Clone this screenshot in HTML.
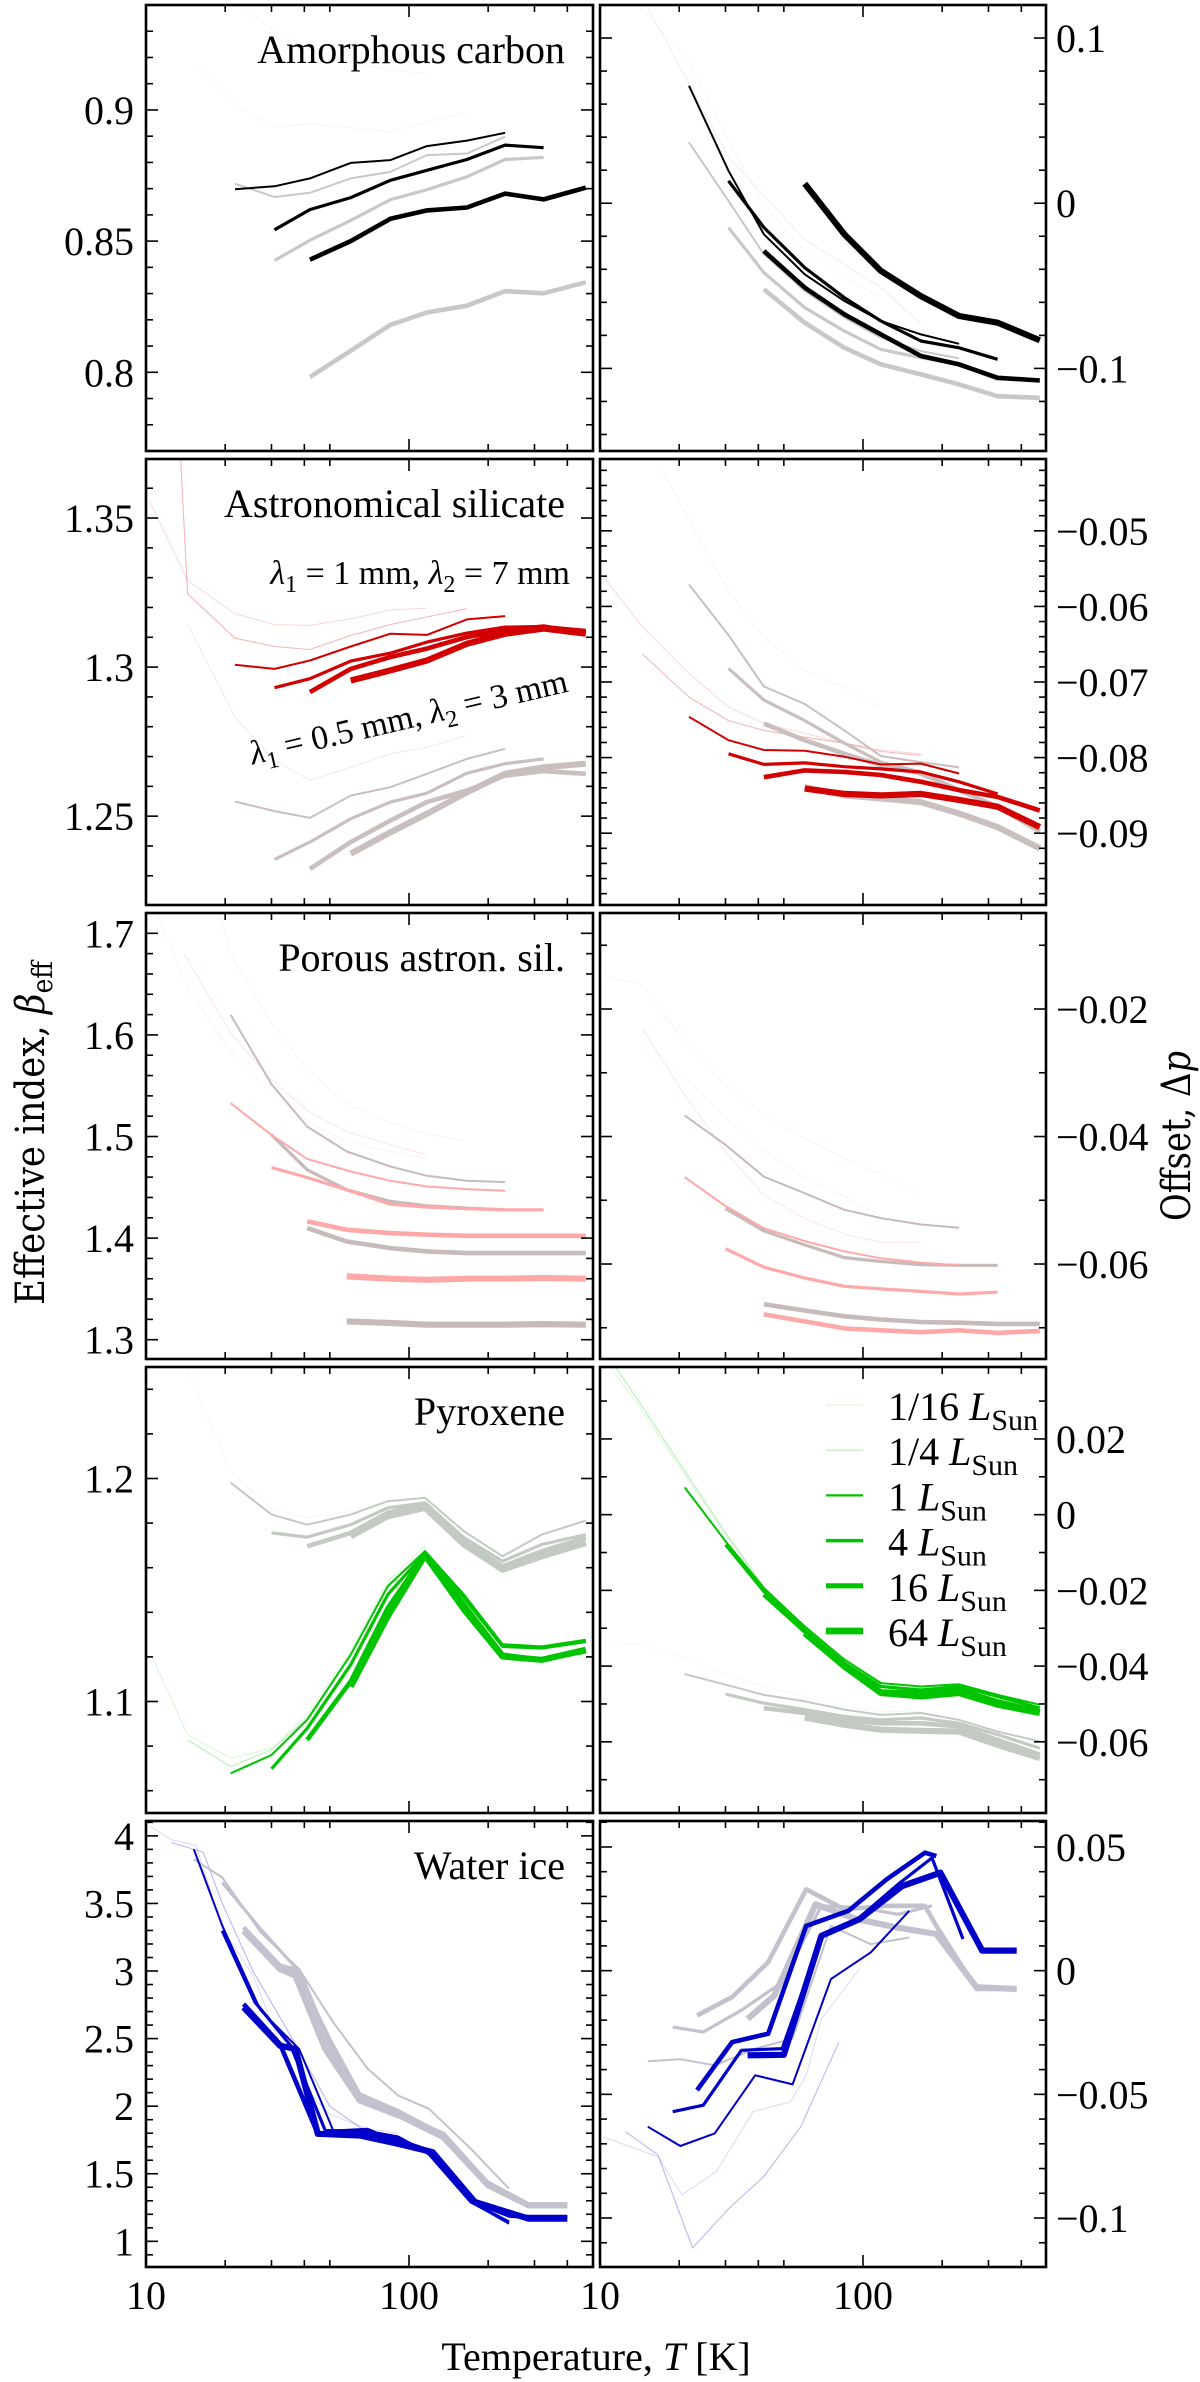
<!DOCTYPE html>
<html><head><meta charset="utf-8"><style>
html,body{margin:0;padding:0;background:#fff}
svg{display:block;font-family:"Liberation Serif",serif}
</style></head><body>
<svg id="fig" width="1200" height="2382" viewBox="0 0 1200 2382" xmlns="http://www.w3.org/2000/svg">
<text transform="translate(44,1133) rotate(-90)" text-anchor="middle" font-family="DejaVu Serif,serif" font-size="40" textLength="344" lengthAdjust="spacingAndGlyphs">Effective index, <tspan font-style="italic">β</tspan><tspan font-size="28" dy="8">eff</tspan></text>
<text transform="translate(1190,1136) rotate(-90)" text-anchor="middle" font-family="DejaVu Serif,serif" font-size="40" textLength="170" lengthAdjust="spacingAndGlyphs">Offset, Δ<tspan font-style="italic">p</tspan></text>
<text x="596" y="2370" text-anchor="middle" font-size="40">Temperature, <tspan font-style="italic">T</tspan> [K]</text>
</svg>
<script>
// ---- data ----
const lumLabels = ["1/16","1/4","1","4","16","64"];
const xTickLabels = ["10","100"];
const xTickValues = [10,100];
const panelTitles = ["Amorphous carbon","Astronomical silicate","Porous astron. sil.","Pyroxene","Water ice"];
const leftYTicks = [[0.8,0.85,0.9],[1.25,1.3,1.35],[1.3,1.4,1.5,1.6,1.7],[1.1,1.2],[1,1.5,2,2.5,3,3.5,4]];
const leftYLabels = [["0.8","0.85","0.9"],["1.25","1.3","1.35"],["1.3","1.4","1.5","1.6","1.7"],["1.1","1.2"],["1","1.5","2","2.5","3","3.5","4"]];
const rightYTicks = [[-0.1,0,0.1],[-0.09,-0.08,-0.07,-0.06,-0.05],[-0.06,-0.04,-0.02],[-0.06,-0.04,-0.02,0,0.02],[-0.1,-0.05,0,0.05]];
const rightYLabels = [["−0.1","0","0.1"],["−0.09","−0.08","−0.07","−0.06","−0.05"],["−0.06","−0.04","−0.02"],["−0.06","−0.04","−0.02","0","0.02"],["−0.1","−0.05","0","0.05"]];

const carbonL = [
 {l:0,c:1,T:[15.6,21.8,30.8,42,60,85,117,166],v:[0.9166,0.9019,0.8936,0.8946,0.8932,0.8917,0.8955,0.899]},
 {l:0,c:1,T:[19,30.8,42,60,85,117],v:[0.945,0.930,0.923,0.918,0.915,0.914]},
 {l:2,c:1,T:[21.8,30.8,42,60,85,117,166,232],v:[0.8719,0.8668,0.8684,0.8739,0.8764,0.8828,0.8834,0.8898]},
 {l:2,c:0,T:[21.8,30.8,42,60,85,117,166,232],v:[0.8698,0.8709,0.8739,0.8798,0.8809,0.8862,0.8883,0.8913]},
 {l:3,c:1,T:[30.8,42,60,85,117,166,232,325],v:[0.8426,0.8503,0.8579,0.8658,0.8696,0.8745,0.8811,0.8819]},
 {l:3,c:0,T:[30.8,42,60,85,117,166,232,325],v:[0.8543,0.862,0.8666,0.8732,0.877,0.8811,0.8866,0.8856]},
 {l:4,c:1,T:[42,60,85,117,166,232,325,470],v:[0.7982,0.8082,0.8181,0.8228,0.8254,0.8309,0.8301,0.8343]},
 {l:4,c:0,T:[42,60,85,117,166,232,325,470],v:[0.8429,0.85,0.8585,0.8617,0.8628,0.8681,0.8659,0.8704]}
];
const carbonR = [
 {l:0,c:1,T:[14,21.8,30.8,42,60,85,117],v:[0.12,0.086,0.038,-0.001,-0.029,-0.045,-0.057]},
 {l:1,c:1,T:[15,30.8,60,117,166],v:[0.12,0.028,-0.022,-0.051,-0.073]},
 {l:2,c:1,T:[21.8,30.8,42,60,85,117,166,232],v:[0.0368,0.0014,-0.0309,-0.0531,-0.0693,-0.0814,-0.0895,-0.0939]},
 {l:2,c:0,T:[21.8,30.8,42,60,85,117,166,232],v:[0.0711,0.0196,-0.0188,-0.043,-0.0592,-0.0713,-0.0794,-0.0851]},
 {l:3,c:1,T:[30.8,42,60,85,117,166,232,325],v:[-0.0147,-0.042,-0.0632,-0.0774,-0.0885,-0.0935,-0.0976,-0.1067]},
 {l:3,c:0,T:[30.8,42,60,85,117,166,232,325],v:[0.0135,-0.0147,-0.039,-0.0572,-0.0713,-0.0834,-0.0875,-0.0945]},
 {l:4,c:1,T:[42,60,85,117,166,232,325,470],v:[-0.0521,-0.0723,-0.0875,-0.0976,-0.1036,-0.1097,-0.1168,-0.1178]},
 {l:4,c:0,T:[42,60,85,117,166,232,325,470],v:[-0.0289,-0.0511,-0.0673,-0.0794,-0.0925,-0.0976,-0.1057,-0.1073]},
 {l:5,c:0,T:[60,85,117,166,232,325,470],v:[0.0119,-0.0188,-0.041,-0.0562,-0.0683,-0.0723,-0.083]}
];
const silL = [
 {l:0,c:0,T:[10.3,14.4,21.8,30.8,42,60,85,117],v:[1.3559,1.329,1.3179,1.3143,1.314,1.3162,1.3192,1.3198]},
 {l:1,c:0,T:[13.5,14.4,21.8,30.8,42,60,85,117,166],v:[1.372,1.3246,1.3097,1.3069,1.3059,1.3106,1.3143,1.3168,1.3196]},
 {l:1,c:1,T:[14.4,21.8,30.8,42,60,85,117,166],v:[1.3145,1.2832,1.2687,1.262,1.2664,1.2709,1.2731,1.2771]},
 {l:2,c:1,T:[21.8,30.8,42,60,85,117,166,232],v:[1.2549,1.2517,1.2494,1.2569,1.2597,1.2642,1.2692,1.2726]},
 {l:3,c:1,T:[30.8,42,60,85,117,166,232,325],v:[1.2355,1.2413,1.2491,1.2547,1.2577,1.2644,1.2676,1.2692]},
 {l:4,c:1,T:[42,60,85,117,166,232,325,470],v:[1.2323,1.2413,1.2485,1.2547,1.2586,1.2636,1.2651,1.2642]},
 {l:5,c:1,T:[60,85,117,166,232,325,470],v:[1.2374,1.2446,1.2508,1.258,1.2642,1.2664,1.2676]},
 {l:2,c:0,T:[21.8,30.8,42,60,85,117,166,232],v:[1.3008,1.2994,1.3022,1.3069,1.3112,1.3108,1.316,1.3171]},
 {l:3,c:0,T:[30.8,42,60,85,117,166,232,325,470],v:[1.2931,1.2961,1.302,1.3047,1.3084,1.3114,1.3134,1.3136,1.3123]},
 {l:4,c:0,T:[42,60,85,117,166,232,325,470],v:[1.2916,1.2994,1.3034,1.3062,1.3101,1.3123,1.3136,1.3112]},
 {l:5,c:0,T:[60,85,117,166,232,325,470],v:[1.2955,1.2989,1.3022,1.3078,1.3112,1.3129,1.3112]}
];
const silR = [
 {l:0,c:1,T:[16.5,21.8,30.8,42,60,85,117],v:[-0.0407,-0.0486,-0.0579,-0.0641,-0.0685,-0.0707,-0.0733]},
 {l:0,c:0,T:[10.3,14.5,21.8,30.8,42,60,85,117,166],v:[-0.0561,-0.0627,-0.0689,-0.0733,-0.0755,-0.0768,-0.0781,-0.079,-0.0795]},
 {l:1,c:0,T:[14.5,21.8,30.8,42,60,85,117,166],v:[-0.0663,-0.072,-0.0751,-0.0764,-0.0773,-0.0781,-0.0792,-0.0797]},
 {l:2,c:1,T:[21.8,30.8,42,60,85,117,166,232],v:[-0.0571,-0.0638,-0.0706,-0.0729,-0.0764,-0.0798,-0.0806,-0.0813]},
 {l:3,c:1,T:[30.8,42,60,85,117,166,232],v:[-0.0682,-0.0724,-0.0751,-0.0781,-0.0806,-0.0819,-0.0832]},
 {l:4,c:1,T:[42,60,85,117,166,232,325,470],v:[-0.0755,-0.0777,-0.0795,-0.081,-0.0821,-0.0843,-0.0865,-0.0898]},
 {l:5,c:1,T:[60,85,117,166,232,325,470],v:[-0.0839,-0.085,-0.0854,-0.0859,-0.0874,-0.0892,-0.092]},
 {l:2,c:0,T:[21.8,30.8,42,60,85,117,166,232],v:[-0.0746,-0.0777,-0.079,-0.0791,-0.0799,-0.0809,-0.0808,-0.0821]},
 {l:3,c:0,T:[30.8,42,60,85,117,166,232,325],v:[-0.0795,-0.0809,-0.0807,-0.0812,-0.0815,-0.0819,-0.0832,-0.0848]},
 {l:4,c:0,T:[42,60,85,117,166,232,325,470],v:[-0.0826,-0.0817,-0.0819,-0.0823,-0.0832,-0.0843,-0.0852,-0.087]},
 {l:5,c:0,T:[60,85,117,166,232,325,470],v:[-0.0841,-0.0848,-0.085,-0.0848,-0.0856,-0.0865,-0.0892]}
];
const porL = [
 {l:0,c:0,T:[11,14.4,21,30,41,58,85,117],v:[1.72,1.6459,1.5836,1.5426,1.5148,1.4951,1.4852,1.4787]},
 {l:1,c:0,T:[14,21,30,41,58,85,117],v:[1.6793,1.6016,1.5557,1.5255,1.5049,1.4918,1.4820]},
 {l:0,c:1,T:[19,21,30,41,58,85,117,160],v:[1.72,1.6803,1.6115,1.5656,1.5328,1.5131,1.5026,1.4967]},
 {l:2,c:1,T:[21,30,41,58,85,117,166,232],v:[1.6197,1.5515,1.5098,1.4852,1.4705,1.4613,1.4564,1.4551]},
 {l:3,c:1,T:[30,41,58,85,117,166,232],v:[1.5016,1.4672,1.4475,1.4361,1.4318,1.4295,1.4279]},
 {l:4,c:1,T:[41,58,85,117,166,232,325,470],v:[1.4098,1.3967,1.3902,1.3869,1.3852,1.3852,1.3852,1.3852]},
 {l:5,c:1,T:[58,85,117,166,232,325,470],v:[1.318,1.3164,1.3148,1.3148,1.3148,1.3154,1.3148]},
 {l:2,c:0,T:[21,30,41,60,85,117,166,232],v:[1.5328,1.5016,1.478,1.4656,1.4564,1.4508,1.4482,1.4466]},
 {l:3,c:0,T:[30,41,58,85,117,166,232,325],v:[1.4695,1.4597,1.4475,1.4334,1.4305,1.4289,1.4279,1.4279]},
 {l:4,c:0,T:[41,58,85,117,166,232,325,470],v:[1.4164,1.4082,1.4049,1.4033,1.4023,1.4023,1.4023,1.4023]},
 {l:5,c:0,T:[58,85,117,166,232,325,470],v:[1.3623,1.36,1.359,1.36,1.36,1.3607,1.36]}
];
const porR = [
 {l:0,c:0,T:[10.3,14.5,21,30,42,60,85,117,166],v:[-0.0147,-0.0162,-0.0251,-0.0319,-0.0366,-0.0403,-0.0434,-0.046,-0.0491]},
 {l:1,c:0,T:[14.5,21,30,42,60,85,117,166],v:[-0.0231,-0.0335,-0.0424,-0.0492,-0.0529,-0.0553,-0.0566,-0.0566]},
 {l:0,c:1,T:[21,30,42,60,85,117],v:[-0.0308,-0.0371,-0.0423,-0.0465,-0.0494,-0.0525]},
 {l:2,c:1,T:[21,30,42,60,85,117,166,232],v:[-0.0367,-0.0413,-0.0463,-0.0489,-0.0515,-0.0528,-0.0538,-0.0543]},
 {l:3,c:1,T:[30,42,60,85,117,166,232,325],v:[-0.0513,-0.0548,-0.057,-0.059,-0.0596,-0.0601,-0.0602,-0.0602]},
 {l:4,c:1,T:[42,60,85,117,166,232,325,470],v:[-0.0663,-0.0673,-0.0682,-0.0687,-0.0691,-0.0692,-0.0694,-0.0694]},
 {l:2,c:0,T:[21,30,42,60,85,117,166,232],v:[-0.0464,-0.0509,-0.0544,-0.0564,-0.058,-0.0591,-0.0598,-0.0602]},
 {l:3,c:0,T:[30,42,60,85,117,166,232,325],v:[-0.0576,-0.0605,-0.0622,-0.0635,-0.0639,-0.0643,-0.0647,-0.0644]},
 {l:4,c:0,T:[42,60,85,117,166,232,325,470],v:[-0.0679,-0.069,-0.0701,-0.0704,-0.0707,-0.0704,-0.0708,-0.0705]}
];
const pyrL = [
 {l:0,c:0,T:[10.6,14.4,21,30,41,60,83,115],v:[1.1195,1.085,1.0746,1.079,1.094,1.1225,1.1539,1.1696]},
 {l:1,c:0,T:[14.4,21,30,41,60,83,115,162],v:[1.0828,1.0708,1.0783,1.0925,1.121,1.1524,1.1681,1.1479]},
 {l:0,c:1,T:[14.4,21,30,41,60,83,115],v:[1.2482,1.2033,1.1861,1.1823,1.1853,1.1898,1.1913]},
 {l:2,c:1,T:[21,30,41,60,83,115,162,227,320,470],v:[1.1981,1.1838,1.1793,1.1838,1.1898,1.1913,1.1763,1.1651,1.1749,1.1811]},
 {l:3,c:1,T:[30,41,60,83,115,162,227,320,470],v:[1.1756,1.1737,1.1793,1.1868,1.1891,1.1734,1.1629,1.1704,1.1749]},
 {l:4,c:1,T:[41,60,83,115,162,227,320,470],v:[1.1696,1.1756,1.1846,1.1883,1.1719,1.1606,1.1674,1.1734]},
 {l:5,c:1,T:[60,83,115,162,227,320,470],v:[1.1741,1.1831,1.1868,1.1704,1.1591,1.1651,1.1711]},
 {l:2,c:0,T:[21,30,41,60,83,115,162,227,320,470],v:[1.0678,1.076,1.0918,1.121,1.1516,1.1674,1.1479,1.1257,1.1247,1.1277]},
 {l:3,c:0,T:[30,41,60,83,115,162,227,320,470],v:[1.0698,1.088,1.1165,1.1479,1.1666,1.1464,1.1247,1.124,1.1269]},
 {l:4,c:0,T:[41,60,83,115,162,227,320,470],v:[1.0828,1.109,1.1419,1.1659,1.1434,1.121,1.1187,1.1225]},
 {l:5,c:0,T:[60,83,115,162,227,320,470],v:[1.1067,1.1382,1.1656,1.1412,1.1202,1.1187,1.1232]}
];
const pyrR = [
 {l:0,c:1,T:[10.3,14.5,21,30,42,60,85,117,166],v:[-0.0335,-0.0344,-0.0379,-0.0423,-0.0454,-0.048,-0.0507,-0.052,-0.052]},
 {l:2,c:1,T:[21,30,42,60,85,117,166,232,325,470],v:[-0.0421,-0.0449,-0.0476,-0.0493,-0.0515,-0.0529,-0.0524,-0.0542,-0.0573,-0.0599]},
 {l:3,c:1,T:[30,42,60,85,117,166,232,325,470],v:[-0.0474,-0.0498,-0.0515,-0.0533,-0.0542,-0.0537,-0.0551,-0.0581,-0.0617]},
 {l:4,c:1,T:[42,60,85,117,166,232,325,470],v:[-0.0511,-0.0524,-0.0542,-0.0551,-0.0551,-0.0559,-0.0595,-0.0634]},
 {l:5,c:1,T:[60,85,117,166,232,325,470],v:[-0.0536,-0.0555,-0.0568,-0.0571,-0.0573,-0.0608,-0.0643]},
 {l:0,c:0,T:[11,14.5,21,30,42,60,85,117],v:[0.0388,0.0273,0.0106,-0.0053,-0.0194,-0.03,-0.0379,-0.0441]},
 {l:1,c:0,T:[11.5,14.5,21,30,42,60,85,117],v:[0.0388,0.0285,0.0115,-0.0047,-0.019,-0.0298,-0.0381,-0.0445]},
 {l:2,c:0,T:[21,30,42,60,85,117,166,232,325,470],v:[0.0072,-0.007,-0.0194,-0.0295,-0.0383,-0.0445,-0.0454,-0.0448,-0.0476,-0.0502]},
 {l:3,c:0,T:[30,42,60,85,117,166,232,325,470],v:[-0.0079,-0.0203,-0.0304,-0.0392,-0.0454,-0.0463,-0.0454,-0.048,-0.0511]},
 {l:4,c:0,T:[42,60,85,117,166,232,325,470],v:[-0.0211,-0.0308,-0.0396,-0.0467,-0.0471,-0.0463,-0.0493,-0.052]},
 {l:5,c:0,T:[60,85,117,166,232,325,470],v:[-0.0313,-0.0401,-0.0471,-0.048,-0.0471,-0.0502,-0.0524]}
];
const iceL = [
 {l:0,c:0,T:[10.4,12.5,15.5,19.5,25.5,36,50,70,91],v:[4.07,3.97,3.93,3.31,2.97,2.23,1.94,1.83,1.8]},
 {l:1,c:0,T:[12.5,16.5,19.5,25.5,36,50,70,91],v:[3.95,3.88,3.5,3.0,2.5,2.0,1.8,1.78]},
 {l:2,c:1,T:[15.2,19.5,27.3,38.2,51.5,69.7,91,119,172,240],v:[3.8276,3.6921,3.2857,3.0148,2.6207,2.2759,2.0788,1.9803,1.6847,1.3892]},
 {l:3,c:1,T:[19.5,27.3,37,50,65,91,130,200,285,400],v:[3.6552,3.3103,3.0271,2.4975,2.0911,1.968,1.8079,1.4384,1.2783,1.2783]},
 {l:4,c:1,T:[23.5,32.3,38.2,50,65,91,135,200,285,400],v:[3.3227,3.0394,3.0025,2.4483,2.0665,1.9433,1.7956,1.4261,1.266,1.2709]},
 {l:5,c:1,T:[23.5,32.3,37,48,65,95,135,200,285,400],v:[3.298,3.0148,2.9655,2.4236,2.0419,1.9187,1.7709,1.4138,1.266,1.266]},
 {l:2,c:0,T:[15.2,19.5,27.3,38.2,51.5,69.7,91,119,172,240],v:[3.9015,3.335,2.7069,2.4236,1.8202,1.8325,1.734,1.6724,1.2906,1.1305]},
 {l:3,c:0,T:[19.5,26,35.5,48,69.7,91,119,172,240],v:[3.298,2.7685,2.4483,1.8202,1.8128,1.7709,1.6478,1.2906,1.1429]},
 {l:4,c:0,T:[23.5,32.3,45,65,91,123,178,240,285,400],v:[2.7562,2.4606,1.7956,1.8079,1.7463,1.6601,1.2906,1.1921,1.1798,1.1798]},
 {l:5,c:0,T:[23.5,32.3,37,45,65,91,123,178,285,400],v:[2.7315,2.4483,2.4236,1.7956,1.7833,1.7217,1.6601,1.2906,1.1675,1.1675]}
];
const iceR = [
 {l:0,c:0,T:[10.3,13.5,16.6,20.5,27.7,38.2,53,60.8,69.5,97],v:[-0.0671,-0.0718,-0.0752,-0.0906,-0.0812,-0.057,-0.053,-0.0423,-0.0195,0.0007]},
 {l:1,c:0,T:[12.5,16.6,22.5,31,42,58,81],v:[-0.0651,-0.0745,-0.1121,-0.096,-0.0832,-0.0631,-0.0289]},
 {l:2,c:1,T:[15.2,20.2,27.3,38.9,54,75.5,107,150],v:[-0.0366,-0.0358,-0.0383,-0.0315,-0.0275,0.0181,0.0107,0.0134]},
 {l:3,c:1,T:[18.9,24.7,34.5,49.3,69.5,97,136,183],v:[-0.0228,-0.0248,-0.016,-0.0047,0.0262,0.0255,0.0228,0.0262]},
 {l:4,c:1,T:[23.4,31.8,43.6,60.8,85,123,172,190,270,384],v:[-0.0181,-0.0107,0.0034,0.0329,0.0248,0.0262,0.0262,0.0181,-0.0074,-0.0074]},
 {l:5,c:1,T:[36.4,46,66,95,135,190,270,384],v:[-0.0195,-0.0101,0.0268,0.0208,0.0174,0.0148,-0.0067,-0.0074]},
 {l:2,c:0,T:[15.2,20.2,27.3,38.9,54,75.5,107,150],v:[-0.0631,-0.0709,-0.0658,-0.0423,-0.046,-0.0034,0.0074,0.0242]},
 {l:3,c:0,T:[18.9,24.7,34.5,49.3,69.5,97,136,183,240],v:[-0.057,-0.0544,-0.0322,-0.0315,0.0134,0.0215,0.0349,0.0456,0.0128]},
 {l:4,c:0,T:[23.4,31.8,43.6,60.8,88,123,172,190],v:[-0.0483,-0.0289,-0.0255,0.0181,0.0242,0.0369,0.0477,0.0463]},
 {l:5,c:0,T:[36.4,50,69.5,97,141,197,284,384],v:[-0.0342,-0.034,0.0141,0.0208,0.0342,0.0396,0.0081,0.0081]}
];

// ---- styles / geometry ----
const NS="http://www.w3.org/2000/svg";
const svg=document.getElementById('fig');
const lumWidth=[1.1,1.1,2,3.2,4.6,6.2];
const lumOpacity=[0.14,0.28,1,1,1,1];
const rowColors=[["#000000","#c8c8c8"],["#d20000","#c9bfbf"],["#ffa8a8","#c6baba"],["#00c400","#c2cac2"],["#0000c8","#c2c2cf"]];
const rowTops=[5,459,913,1367,1821];
const H=446, DEC=263;
const colX=[146,600], W=[447,446];
const leftRanges=[[0.77,0.94],[1.2202,1.3698],[1.281,1.72],[1.050,1.250],[0.81,4.11]];
const rightRanges=[[-0.15,0.12],[-0.0995,-0.0405],[-0.0749,-0.00494],[-0.0788,0.039],[-0.1198,0.0605]];
const leftMinor=[0.01,0.01,0.02,0.02,0.1];
const rightMinor=[0.02,0.002,0.01,0.01,0.01];
const leftSeries=[carbonL,silL,porL,pyrL,iceL];
const rightSeries=[carbonR,silR,porR,pyrR,iceR];

function el(tag,attrs,parent){const e=document.createElementNS(NS,tag);for(const k in attrs)e.setAttribute(k,attrs[k]);(parent||svg).appendChild(e);return e;}
function xs(col,T){return colX[col]+(Math.log10(T)-1)*DEC;}
function ys(row,range,v){return rowTops[row]+H-(v-range[0])/(range[1]-range[0])*H;}

function drawPanel(row,col){
  const x0=colX[col], y0=rowTops[row], w=W[col];
  const range=col===0?leftRanges[row]:rightRanges[row];
  const g=el('g',{});
  
  
  const cid='clip'+row+'_'+col;
  const cp=el('clipPath',{id:cid},g);
  el('rect',{x:x0,y:y0,width:w,height:H},cp);
  const lines=el('g',{'clip-path':'url(#'+cid+')'},g);
  const series=col===0?leftSeries[row]:rightSeries[row];
  series.forEach((s,i)=>{
    const pts=s.T.map((t,j)=>xs(col,t).toFixed(1)+','+ys(row,range,s.v[j]).toFixed(1)).join(' ');
    const p=el('polyline',{points:pts,fill:'none',stroke:rowColors[row][s.c],'stroke-width':lumWidth[s.l],'stroke-opacity':lumOpacity[s.l],'stroke-linejoin':'round'},lines);
    
    
  });
  const tk=el('g',{stroke:'#000','stroke-width':1.6},g);
  
  
  for(let d=1;d<=5;d++){[10,100].forEach(b=>{const T=b*d;const x=xs(col,T);if(x>x0+1&&x<x0+w-1||d===1){if(x<=x0+w){const L=d===1?12:7;el('line',{x1:x,y1:y0+H,x2:x,y2:y0+H-L},tk);el('line',{x1:x,y1:y0,x2:x,y2:y0+L},tk);}}});}
  const minor=col===0?leftMinor[row]:rightMinor[row];
  const major=col===0?leftYTicks[row]:rightYTicks[row];
  const n0=Math.ceil(range[0]/minor-1e-6), n1=Math.floor(range[1]/minor+1e-6);
  for(let n=n0;n<=n1;n++){const v=n*minor;const isMaj=major.some(m=>Math.abs(m-v)<minor/10);const y=ys(row,range,v);const L=isMaj?12:7;
    el('line',{x1:x0,y1:y,x2:x0+L,y2:y},tk);el('line',{x1:x0+w,y1:y,x2:x0+w-L,y2:y},tk);}
  el('rect',{x:x0,y:y0,width:w,height:H,fill:'none',stroke:'#000','stroke-width':2.6},g);
  const labs=col===0?leftYLabels[row]:rightYLabels[row];
  major.forEach((m,i)=>{const t=el('text',{x:col===0?x0-12:x0+w+10,y:ys(row,range,m)+14,'font-size':40,'text-anchor':col===0?'end':'start'},g);t.textContent=labs[i];
    
    });
  if(row===4){xTickValues.forEach((v,i)=>{const t=el('text',{x:xs(col,v),y:2309,'font-size':40,'text-anchor':'middle'},g);t.textContent=xTickLabels[i];
    
    });}
  if(col===0){const t=el('text',{x:565,y:y0+58,'font-size':40,'text-anchor':'end'},g);t.textContent=panelTitles[row];
    
    }
}
for(let r=0;r<5;r++){drawPanel(r,0);drawPanel(r,1);}

const a1=el('text',{x:570,y:584,'font-size':34,'text-anchor':'end'});


a1.innerHTML='<tspan font-style="italic">λ</tspan><tspan font-size="24" dy="8">1</tspan><tspan dy="-8"> = 1 mm, </tspan><tspan font-style="italic">λ</tspan><tspan font-size="24" dy="8">2</tspan><tspan dy="-8"> = 7 mm</tspan>';
const a2=el('text',{x:0,y:0,'font-size':34,'text-anchor':'middle',transform:'translate(411,728) rotate(-13)'});


a2.innerHTML='<tspan font-style="italic">λ</tspan><tspan font-size="24" dy="8">1</tspan><tspan dy="-8"> = 0.5 mm, </tspan><tspan font-style="italic">λ</tspan><tspan font-size="24" dy="8">2</tspan><tspan dy="-8"> = 3 mm</tspan>';

const lg=el('g',{});


lumLabels.forEach((lab,i)=>{
  const y=1405+i*45.2;
  const e=el('g',{},lg);
  
  
  el('line',{x1:826,x2:863,y1:y,y2:y,stroke:rowColors[3][0],'stroke-width':lumWidth[i]*1.1,'stroke-opacity':lumOpacity[i]},e);
  const t=el('text',{x:888,y:y+15,'font-size':40},e);
  t.innerHTML=lab+' <tspan font-style="italic">L</tspan><tspan font-size="30" dy="10">Sun</tspan>';
});
</script>
</body></html>
